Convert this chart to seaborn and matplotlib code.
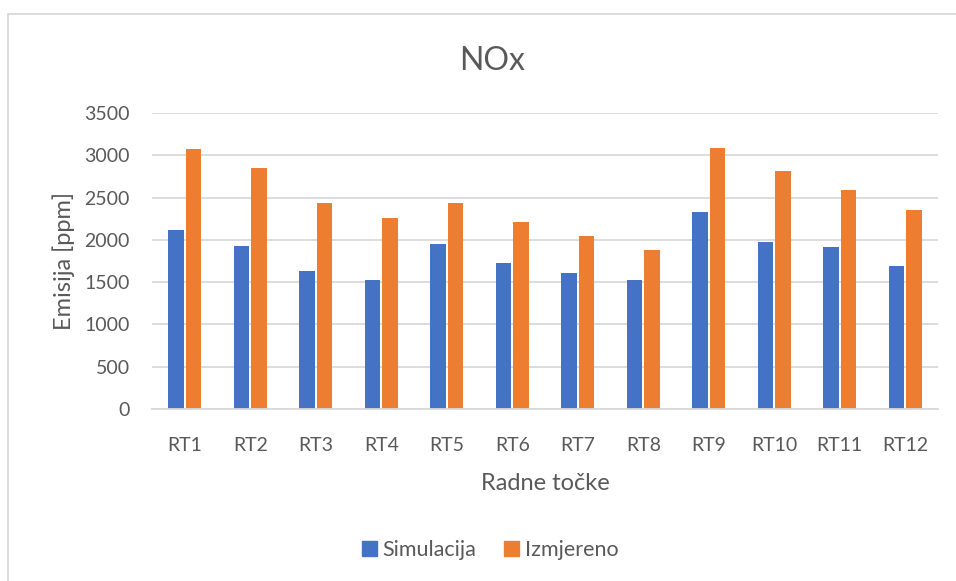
import numpy as np
import pandas as pd
import matplotlib
matplotlib.use("Agg")
import matplotlib.pyplot as plt
import seaborn as sns
from matplotlib.patches import Rectangle

# podaci ocitani s grafa
tocke = ["RT1", "RT2", "RT3", "RT4", "RT5", "RT6",
         "RT7", "RT8", "RT9", "RT10", "RT11", "RT12"]
simulacija = [2120, 1932, 1630, 1529, 1955, 1732, 1611, 1525, 2331, 1971, 1917, 1693]
izmjereno = [3079, 2851, 2433, 2257, 2433, 2210, 2041, 1881, 3086, 2816, 2593, 2351]
serije = ["Simulacija", "Izmjereno"]
boje = ["#4472C4", "#ED7D31"]
y_ticks = [0, 500, 1000, 1500, 2000, 2500, 3000, 3500]

df = pd.DataFrame({"Radne točke": tocke, "Simulacija": simulacija, "Izmjereno": izmjereno})
df = df.melt(id_vars="Radne točke", var_name="Serija", value_name="Emisija")

sns.set_theme(style="white")
plt.rcParams["font.family"] = ["Lato", "DejaVu Sans"]
txt = "#595959"
grid = "#D9D9D9"

fig = plt.figure(figsize=(9.56, 5.81), dpi=100)
ax = fig.add_axes([152 / 956, 1 - 409 / 581, (938 - 152) / 956, (409 - 113) / 581])

sns.barplot(data=df, x="Radne točke", y="Emisija", hue="Serija", hue_order=serije,
            palette=boje, width=0.53, gap=0.1, errorbar=None, linewidth=0,
            saturation=1, ax=ax)
ax.get_legend().remove()

ax.set_ylim(0, 3500)
ax.set_yticks(y_ticks)
ax.set_yticklabels([str(v) for v in y_ticks])
ax.yaxis.grid(True, color=grid, linewidth=1.3)
ax.set_axisbelow(True)
for s in ["top", "right", "left"]:
    ax.spines[s].set_visible(False)
ax.spines["bottom"].set_color(grid)
ax.spines["bottom"].set_linewidth(1.3)
ax.tick_params(axis="both", length=0, labelsize=14, colors=txt)
ax.tick_params(axis="x", pad=20)
ax.tick_params(axis="y", pad=16)

ax.set_xlabel("Radne točke", fontsize=17, color=txt, labelpad=14)
ax.set_ylabel("Emisija [ppm]", fontsize=17, color=txt, labelpad=7)
fig.text(492 / 956, 1 - 61 / 581, "NOx", ha="center", va="center", fontsize=23, color=txt)

handles = [Rectangle((0, 0), 1, 1, color=c) for c in boje]
fig.legend(handles, serije, loc="center", bbox_to_anchor=(490 / 956, 1 - 550 / 581),
           ncol=2, frameon=False, fontsize=15.5, labelcolor=txt, handlelength=0.7,
           handleheight=0.7, handletextpad=0.25, columnspacing=1.3)

# okvir grafikona
fig.add_artist(Rectangle((7.5 / 956, -0.1), 1.2, 1.1 - 14 / 581, transform=fig.transFigure,
                         fill=False, edgecolor=grid, linewidth=1.3))

plt.savefig("out.png", dpi=100)
plt.close()
